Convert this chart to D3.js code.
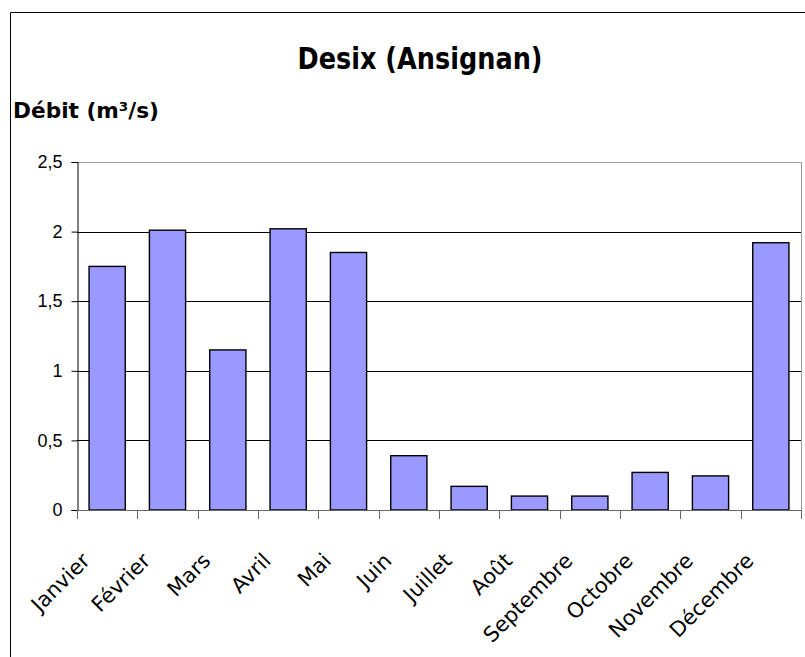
<!DOCTYPE html>
<html>
<head>
<meta charset="utf-8">
<script src="https://cdn.jsdelivr.net/npm/d3@7"></script>
<style>
  body { margin: 0; background: #fff; }
  svg { display: block; }
</style>
</head>
<body>
<div class="chart"></div>
<script>
const months = ["Janvier", "Février", "Mars", "Avril", "Mai", "Juin",
                "Juillet", "Août", "Septembre", "Octobre", "Novembre", "Décembre"];
const debit = [1.75, 2.01, 1.15, 2.02, 1.85, 0.39, 0.17, 0.10, 0.10, 0.27, 0.245, 1.92];
const yTicks = [0, 0.5, 1, 1.5, 2, 2.5];
const chartTitle = "Desix (Ansignan)";
const yTitle = "Débit (m³/s)";

const W = 805, H = 657;
const plot = { left: 77, right: 801, top: 162, bottom: 510 };

const svg = d3.select(".chart").append("svg")
    .attr("width", W)
    .attr("height", H);

// outer chart frame (cut off on the right and bottom)
svg.append("path")
    .attr("d", `M10.5,${H} V12.5 H${W}`)
    .attr("fill", "none")
    .attr("stroke", "#000")
    .attr("stroke-width", 1);

const x = d3.scaleBand()
    .domain(months)
    .range([plot.left, plot.right])
    .paddingInner(0.4)
    .paddingOuter(0.2);

const y = d3.scaleLinear()
    .domain([0, 2.5])
    .range([plot.bottom, plot.top]);

// gridlines
svg.append("g")
    .selectAll("line")
    .data(yTicks.filter(d => d > 0 && d < 2.5))
    .enter().append("line")
    .attr("x1", plot.left).attr("x2", plot.right)
    .attr("y1", d => Math.round(y(d)) + 0.5)
    .attr("y2", d => Math.round(y(d)) + 0.5)
    .attr("stroke", "#000");

// plot area border (top + right, gray)
svg.append("path")
    .attr("d", `M${plot.left},${Math.round(y(2.5)) + 0.5} H${plot.right + 0.5} V${plot.bottom}`)
    .attr("fill", "none")
    .attr("stroke", "#999");

// bars
svg.append("g")
    .selectAll("rect")
    .data(debit)
    .enter().append("rect")
    .attr("x", (d, i) => x(months[i]))
    .attr("y", d => y(d))
    .attr("width", x.bandwidth())
    .attr("height", d => y(0) - y(d))
    .attr("fill", "#9999ff")
    .attr("stroke", "#000")
    .attr("stroke-width", 1.4);

// y axis
const yAxis = svg.append("g")
    .attr("transform", `translate(${plot.left + 0.5},0)`)
    .call(d3.axisLeft(y)
        .tickValues(yTicks)
        .tickSize(6)
        .tickPadding(9)
        .tickFormat(d => String(d).replace(".", ",")));
yAxis.select(".domain").attr("stroke", "#000");
yAxis.selectAll(".tick line").attr("stroke", "#000");
yAxis.selectAll("text")
    .attr("font-family", "'Liberation Sans', Arial, sans-serif")
    .attr("font-size", 18)
    .attr("fill", "#000");

// x axis: ticks at category boundaries
const half = (x.step() - x.bandwidth()) / 2;
const bounds = months.map(m => x(m) - half).concat([x(months[11]) + x.bandwidth() + half]);
svg.append("line")
    .attr("x1", plot.left).attr("x2", plot.right + 1)
    .attr("y1", plot.bottom + 0.5).attr("y2", plot.bottom + 0.5)
    .attr("stroke", "#666");
svg.append("g")
    .selectAll("line")
    .data(bounds)
    .enter().append("line")
    .attr("x1", d => Math.round(d) + 0.5).attr("x2", d => Math.round(d) + 0.5)
    .attr("y1", plot.bottom).attr("y2", plot.bottom + 9)
    .attr("stroke", "#666");

svg.append("g")
    .selectAll("text")
    .data(months)
    .enter().append("text")
    .attr("transform", d => `translate(${x(d) + x.bandwidth() / 2 - 16},${plot.bottom + 52}) rotate(-45)`)
    .attr("text-anchor", "end")
    .attr("font-family", "'DejaVu Sans', Verdana, sans-serif")
    .attr("font-size", 21)
    .attr("fill", "#000")
    .text(d => d);

// titles
svg.append("text")
    .attr("x", 420)
    .attr("y", 69)
    .attr("text-anchor", "middle")
    .attr("font-family", "'DejaVu Sans Condensed', 'DejaVu Sans', sans-serif")
    .attr("font-weight", "bold")
    .attr("font-size", 30)
    .attr("textLength", 245)
    .attr("lengthAdjust", "spacingAndGlyphs")
    .text(chartTitle);

svg.append("text")
    .attr("x", 13)
    .attr("y", 118)
    .attr("font-family", "'DejaVu Sans Condensed', 'DejaVu Sans', sans-serif")
    .attr("font-weight", "bold")
    .attr("font-size", 22)
    .attr("textLength", 146)
    .attr("lengthAdjust", "spacingAndGlyphs")
    .text(yTitle);
</script>
</body>
</html>
